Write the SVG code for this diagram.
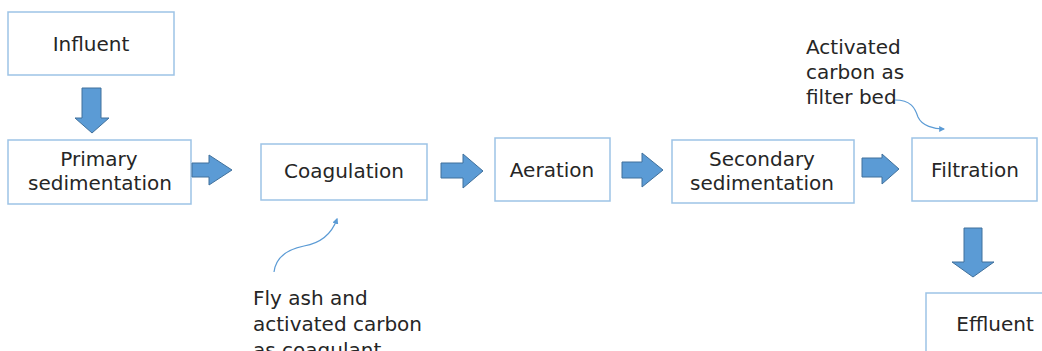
<svg xmlns="http://www.w3.org/2000/svg" width="1042" height="351" viewBox="0 0 1042 351">
  <style>
    .box { fill: #ffffff; stroke: #9dc3e6; stroke-width: 1.5; }
    .lbl { font-family: "DejaVu Sans", sans-serif; font-size: 20px; fill: #262626; text-anchor: middle; }
    .note { font-family: "DejaVu Sans", sans-serif; font-size: 20px; fill: #262626; }
    .blk { fill: #5b9bd5; stroke: #41719c; stroke-width: 1; }
    .curve { fill: none; stroke: #5b9bd5; stroke-width: 1.2; marker-end: url(#tip); }
  </style>
  <defs>
    <marker id="tip" viewBox="0 0 10 10" refX="8" refY="5" markerWidth="6" markerHeight="6" orient="auto" markerUnits="userSpaceOnUse">
      <path d="M0,0 L10,5 L0,10 Z" fill="#5b9bd5"/>
    </marker>
  </defs>
  <rect width="1042" height="351" fill="#ffffff"/>

  <g id="influent">
    <rect class="box" x="8" y="12" width="166" height="63"/>
    <text class="lbl" x="91" y="51">Influent</text>
  </g>
  <g id="primary-sedimentation">
    <rect class="box" x="8" y="140" width="183" height="64"/>
    <text class="lbl" x="99" y="166">Primary</text>
    <text class="lbl" x="100" y="190">sedimentation</text>
  </g>
  <g id="coagulation">
    <rect class="box" x="261" y="144" width="166" height="56"/>
    <text class="lbl" x="344" y="178">Coagulation</text>
  </g>
  <g id="aeration">
    <rect class="box" x="495" y="138" width="115" height="63"/>
    <text class="lbl" x="552" y="177">Aeration</text>
  </g>
  <g id="secondary-sedimentation">
    <rect class="box" x="672" y="140" width="182" height="63"/>
    <text class="lbl" x="762" y="166">Secondary</text>
    <text class="lbl" x="762" y="190">sedimentation</text>
  </g>
  <g id="filtration">
    <rect class="box" x="912" y="138" width="125" height="63"/>
    <text class="lbl" x="975" y="177">Filtration</text>
  </g>
  <g id="effluent">
    <rect class="box" x="926" y="293" width="130" height="70"/>
    <text class="lbl" x="995" y="331">Effluent</text>
  </g>

  <g id="note-coagulant">
    <text class="note" x="253" y="305">Fly ash and</text>
    <text class="note" x="253" y="331">activated carbon</text>
    <text class="note" x="253" y="357">as coagulant</text>
  </g>
  <g id="note-filter">
    <text class="note" x="806" y="54">Activated</text>
    <text class="note" x="806" y="79">carbon as</text>
    <text class="note" x="806" y="104">filter bed</text>
  </g>

  <g id="connectors">
    <polygon class="blk" points="82,88 101,88 101,118 109,118 92,133 75,118 82,118"/>
    <polygon class="blk" points="192,163 209,163 209,155 232,170 209,185 209,177 192,177"/>
    <polygon class="blk" points="441,163 463,163 463,154 483,171 463,188 463,178 441,178"/>
    <polygon class="blk" points="622,162 642,162 642,153 663,170 642,187 642,178 622,178"/>
    <polygon class="blk" points="862,158 882,158 882,154 899,169 882,184 882,177 862,177"/>
    <polygon class="blk" points="964,228 982,228 982,262 994,262 973,277 952,262 964,262"/>
    <path class="curve" d="M274,272 C276,256 289,249 304,246 C321,243 332,233 337,219"/>
    <path class="curve" d="M895,100 C911,100 915,108 918,117 C922,126 934,129 944,129"/>
  </g>
</svg>
